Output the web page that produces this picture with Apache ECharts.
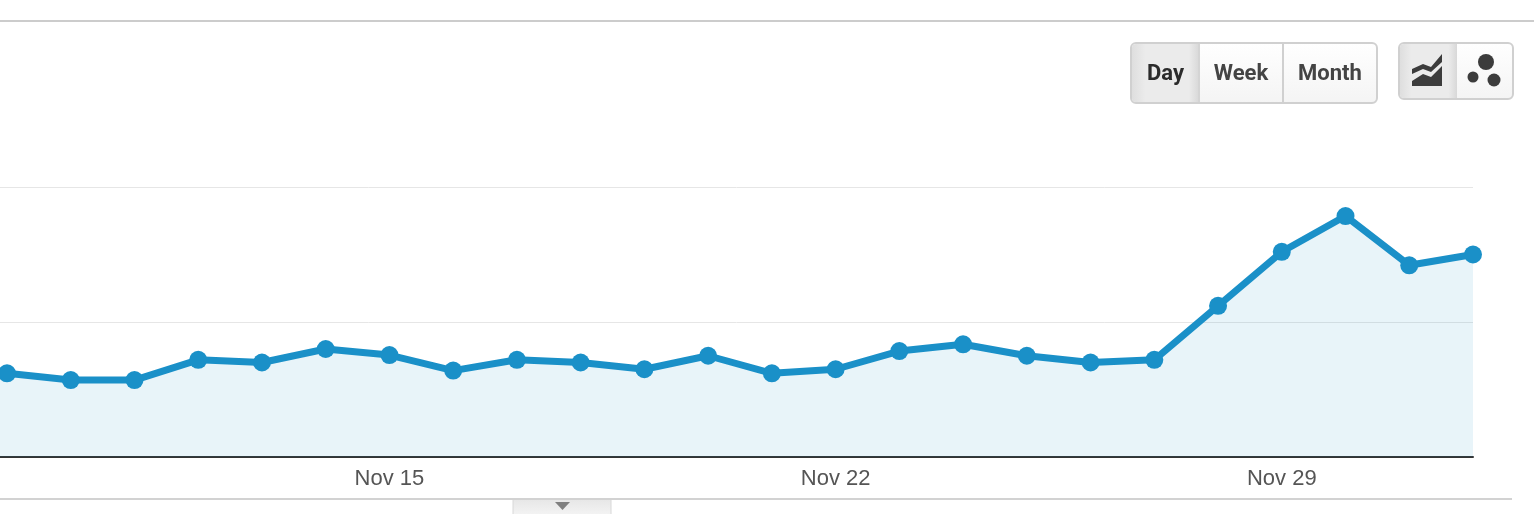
<!DOCTYPE html>
<html><head><meta charset="utf-8">
<style>html,body{margin:0;padding:0;background:#fff;overflow:hidden}#c{width:1534px;height:514px}</style>
<script src="https://cdn.jsdelivr.net/npm/echarts@6/dist/echarts.min.js"></script>
</head><body><div id="c"></div>
<script>
const categories = ['Nov 8','Nov 9','Nov 10','Nov 11','Nov 12','Nov 13','Nov 14','Nov 15','Nov 16','Nov 17','Nov 18','Nov 19','Nov 20','Nov 21','Nov 22','Nov 23','Nov 24','Nov 25','Nov 26','Nov 27','Nov 28','Nov 29','Nov 30','Dec 1','Dec 2'];
const sessions = [66,62,57,57,72,70,80,75.5,64,72,70,65,75,62,65,78.5,83.5,75,70,72,112,152,178.5,142,150];
const tickLabels = ['Nov 15','Nov 22','Nov 29'];
const periodButtons = ['Day','Week','Month'];

const seriesData = categories.map((c, i) => [i, sessions[i]]);
const tickIndexes = tickLabels.map(t => categories.indexOf(t));

const border = '#d0d0d0';
const btnFill = {type:'linear',x:0,y:0,x2:0,y2:1,colorStops:[{offset:0,color:'#ffffff'},{offset:1,color:'#f4f4f4'}]};
const pressFill = {type:'linear',x:0,y:0,x2:1,y2:0,colorStops:[{offset:0,color:'#dedede'},{offset:0.2,color:'#ebebeb'},{offset:0.85,color:'#ebebeb'},{offset:1,color:'#d8d8d8'}]};
const tabFill = {type:'linear',x:0,y:0,x2:0,y2:1,colorStops:[{offset:0,color:'#e6e6e6'},{offset:1,color:'#f4f4f4'}]};
const graphic = [
  {type:'rect',shape:{x:0,y:20,width:1534,height:2},style:{fill:'#cccccc'},silent:true},
  {type:'rect',shape:{x:513,y:499,width:98,height:16},style:{fill:tabFill,stroke:'#d8d8d8',lineWidth:1},silent:true},
  {type:'rect',shape:{x:0,y:498,width:1512,height:2},style:{fill:'#d2d2d2'},silent:true},
  {type:'polygon',shape:{points:[[555,502],[570,502],[562.5,510]]},style:{fill:'#808080'},silent:true},
  // period group
  {type:'rect',shape:{x:1131,y:43,width:246,height:60,r:5},style:{fill:btnFill,stroke:border,lineWidth:2}},
  {type:'rect',shape:{x:1132,y:44,width:67,height:58,r:[4,0,0,4]},style:{fill:pressFill}},
  {type:'rect',shape:{x:1198,y:44,width:2,height:58},style:{fill:'#d4d4d4'}},
  {type:'rect',shape:{x:1282,y:44,width:2,height:58},style:{fill:border}},
  {type:'text',style:{x:1165.5,y:74,text:periodButtons[0],fill:'#2b2b2b',font:'bold 22px Roboto',align:'center',verticalAlign:'middle'}},
  {type:'text',style:{x:1241,y:74,text:periodButtons[1],fill:'#444',font:'bold 22px Roboto',align:'center',verticalAlign:'middle'}},
  {type:'text',style:{x:1330,y:74,text:periodButtons[2],fill:'#444',font:'bold 22px Roboto',align:'center',verticalAlign:'middle'}},
  // chart type group
  {type:'rect',shape:{x:1399,y:43,width:114,height:56,r:5},style:{fill:btnFill,stroke:border,lineWidth:2}},
  {type:'rect',shape:{x:1400,y:44,width:57,height:54,r:[4,0,0,4]},style:{fill:pressFill}},
  {type:'polygon',shape:{points:[[1412,69],[1423,64],[1431,67],[1442,54],[1442,62],[1431,72],[1423,69],[1412,74]]},style:{fill:'#3c3c3c'}},
  {type:'polygon',shape:{points:[[1412,81],[1423,74],[1431,77],[1442,66],[1442,86],[1412,86]]},style:{fill:'#3c3c3c'}},
  {type:'circle',shape:{cx:1486,cy:62,r:8},style:{fill:'#3c3c3c'}},
  {type:'circle',shape:{cx:1473,cy:77,r:5.5},style:{fill:'#3c3c3c'}},
  {type:'circle',shape:{cx:1494,cy:80,r:6.5},style:{fill:'#3c3c3c'}}
];

const chart = echarts.init(document.getElementById('c'), null, {renderer:'canvas'});
chart.setOption({
  animation:false,
  backgroundColor:'#fff',
  grid:{left:0,top:187,width:1473,height:270},
  xAxis:{type:'value',min:0.89,max:24,
    axisLine:{lineStyle:{color:'#333',width:2}},axisTick:{show:false},
    axisLabel:{margin:11,color:'#555',fontFamily:'Liberation Sans',fontSize:22,hideOverlap:false,
      customValues:tickIndexes,
      formatter:v=>categories[v]||''},
    splitLine:{show:false}},
  yAxis:{type:'value',min:0,max:200,interval:100,
    axisLine:{show:false},axisTick:{show:false},axisLabel:{show:false},
    splitLine:{lineStyle:{color:'#e6e6e6',width:1}}},
  series:[{type:'line',data:seriesData,symbol:'circle',symbolSize:18,showSymbol:true,showAllSymbol:true,
    lineStyle:{color:'#1a90c8',width:7},itemStyle:{color:'#1a90c8'},
    areaStyle:{color:'#1a90c8',opacity:0.1},clip:false}],
  graphic:{elements:graphic}
});
</script></body></html>
